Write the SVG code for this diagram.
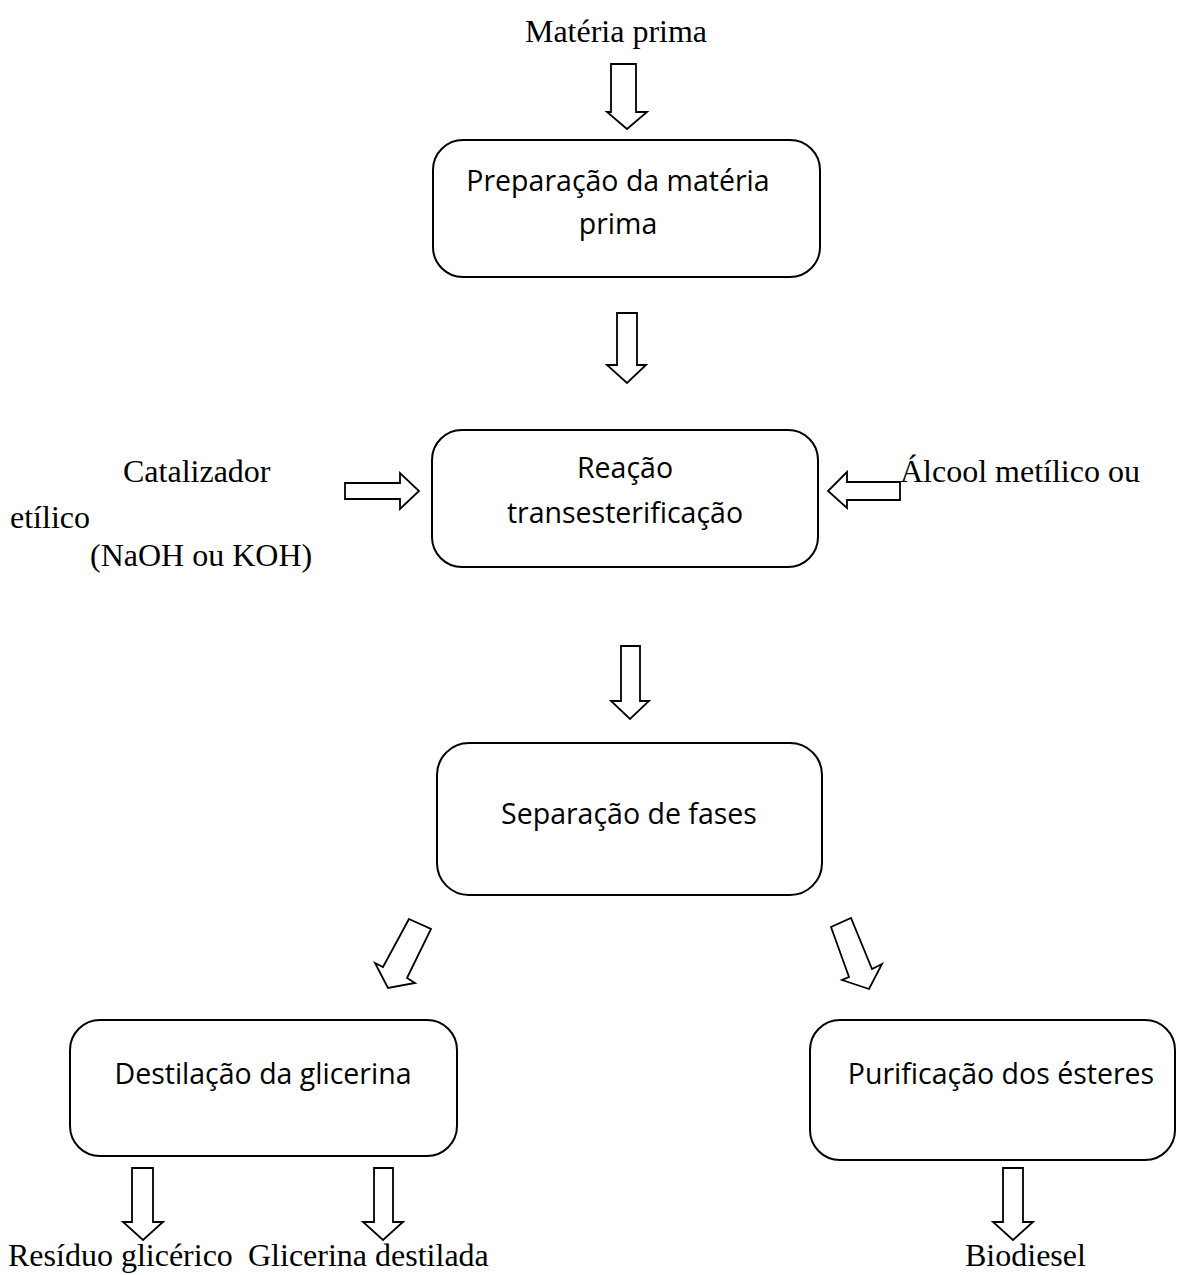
<svg xmlns="http://www.w3.org/2000/svg" width="1187" height="1275" viewBox="0 0 1187 1275">
<style>
.box{fill:#fff;stroke:#000;stroke-width:2}
.arr{fill:#fff;stroke:#000;stroke-width:1.8;stroke-linejoin:miter}
.sans{font-family:"Open Sans","Noto Sans",sans-serif;font-size:28.5px;fill:#000;text-anchor:middle}
.serif{font-family:"Liberation Serif","Times New Roman",serif;font-size:32px;fill:#000}
</style>
<rect width="1187" height="1275" fill="#fff"/>
<g id="connectors">
<polygon class="arr" points="611,64 636,64 636,112 647,112 627,129 607,112 611,112"/>
<polygon class="arr" points="617,313 637,313 637,365 646,365 627,383 607,365 617,365"/>
<polygon class="arr" points="621,646 640,646 640,701 649,701 630,719 611,701 621,701"/>
<polygon class="arr" points="345,483 400,483 400,473 419,491 400,509 400,499 345,499"/>
<polygon class="arr" points="900,482 847,482 847,472 828,491 847,508 847,500 900,500"/>
<polygon class="arr" points="409,919 431,929 407,978 415,983 388,988 375,963 383,967"/>
<polygon class="arr" points="831,927 851,918 872,969 882,964 869,989 842,980 849,977"/>
<polygon class="arr" points="132,1168 153,1168 153,1222 163,1222 143,1240 123,1222 132,1222"/>
<polygon class="arr" points="374,1168 393,1168 393,1222 403,1222 383,1240 363,1222 374,1222"/>
<polygon class="arr" points="1003,1168 1023,1168 1023,1222 1033,1222 1013,1240 993,1222 1003,1222"/>
</g>
<g id="n-materia">
<text class="serif" x="616" y="42" text-anchor="middle">Matéria prima</text>
</g>
<g id="n-preparacao">
<rect class="box" x="433" y="140" width="387" height="137" rx="30"/>
<text class="sans" x="618" y="191">Preparação da matéria</text>
<text class="sans" x="618" y="234">prima</text>
</g>
<g id="n-catalizador">
<text class="serif" x="123" y="482">Catalizador</text>
<text class="serif" x="10" y="528">etílico</text>
<text class="serif" x="90" y="566">(NaOH ou KOH)</text>
</g>
<g id="n-alcool">
<text class="serif" x="900" y="482">Álcool metílico ou</text>
</g>
<g id="n-reacao">
<rect class="box" x="432" y="430" width="386" height="137" rx="30"/>
<text class="sans" x="625" y="478">Reação</text>
<text class="sans" x="625" y="523">transesterificação</text>
</g>
<g id="n-separacao">
<rect class="box" x="437" y="743" width="385" height="152" rx="32"/>
<text class="sans" x="629" y="824">Separação de fases</text>
</g>
<g id="n-destilacao">
<rect class="box" x="70" y="1020" width="387" height="136" rx="30"/>
<text class="sans" x="263" y="1084">Destilação da glicerina</text>
</g>
<g id="n-purificacao">
<rect class="box" x="810" y="1020" width="365" height="140" rx="30"/>
<text class="sans" x="1001" y="1084">Purificação dos ésteres</text>
</g>
<g id="n-residuo">
<text class="serif" x="8" y="1266">Resíduo glicérico</text>
</g>
<g id="n-glicerina">
<text class="serif" x="248" y="1266">Glicerina destilada</text>
</g>
<g id="n-biodiesel">
<text class="serif" x="965" y="1266">Biodiesel</text>
</g>
</svg>
